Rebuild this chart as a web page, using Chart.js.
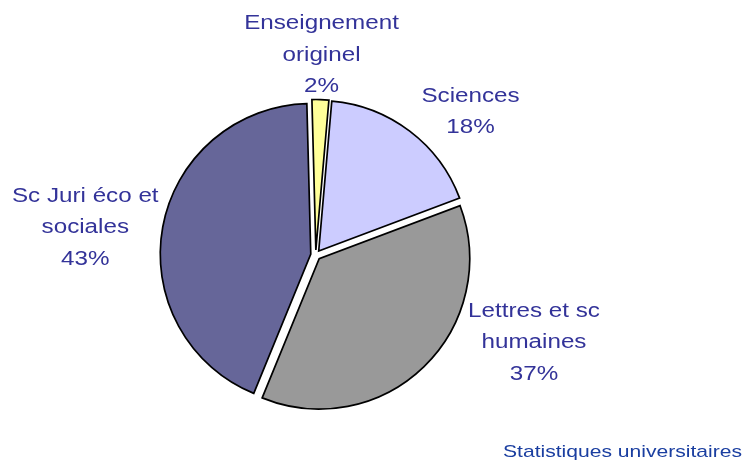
<!DOCTYPE html>
<html>
<head>
<meta charset="utf-8">
<script src="https://cdn.jsdelivr.net/npm/chart.js@4/dist/chart.umd.min.js"></script>
<style>
  html, body { margin: 0; padding: 0; background: #ffffff; }
  #wrap { width: 747px; height: 461px; position: relative; }
</style>
</head>
<body>
<div id="wrap"><canvas id="c" width="747" height="461"></canvas></div>
<script>
// ---- data (shares; labels show them rounded) ----
const categories = [["Enseignement", "originel"], ["Sciences"], ["Lettres et sc", "humaines"], ["Sc Juri éco et", "sociales"]];
const values = [1.8, 17.9, 36.9, 43.4];
const colors = ["#FFFF99", "#CCCCFF", "#999999", "#666699"];
const footerText = "Statistiques universitaires";

// ---- layout (label anchors relative to pie centre, in units of radius) ----
const labelAnchors = [[0.0385, -1.502], [1.029, -1.019], [1.4505, 0.41], [-1.531, -0.354]];
const PIE_RADIUS = 150.5;
const EXPLODE = 5;

// explode every slice outward along its mid-angle (Excel style, no radius change)
const explodePlugin = {
  id: 'explode',
  afterDatasetUpdate(chart, args) {
    const meta = chart.getDatasetMeta(args.index);
    meta.data.forEach(el => { el.$cx = el.x; el.$cy = el.y; });
  },
  beforeDatasetDraw(chart, args) {
    const meta = chart.getDatasetMeta(args.index);
    meta.data.forEach(el => {
      const mid = (el.startAngle + el.endAngle) / 2;
      el.x = el.$cx + Math.cos(mid) * EXPLODE;
      el.y = el.$cy + Math.sin(mid) * EXPLODE;
    });
  }
};

const labelPlugin = {
  id: 'extLabels',
  afterDraw(chart) {
    const ctx = chart.ctx;
    const meta = chart.getDatasetMeta(0);
    const arc0 = meta.data[0];
    const cx = arc0.$cx, cy = arc0.$cy, r = arc0.outerRadius;
    const total = values.reduce((a, b) => a + b, 0);
    ctx.save();
    ctx.fillStyle = '#333399';
    ctx.font = '20px "Liberation Sans", Arial, sans-serif';
    ctx.textAlign = 'center';
    ctx.textBaseline = 'alphabetic';
    const sx = 1.21, lh = 31.6;
    values.forEach((v, i) => {
      const ax = cx + labelAnchors[i][0] * r;
      const ay = cy + labelAnchors[i][1] * r;
      const lines = categories[i].concat([Math.round(v / total * 100) + '%']);
      lines.forEach((t, j) => {
        ctx.save();
        ctx.translate(ax, ay + j * lh);
        ctx.scale(sx, 1);
        ctx.fillText(t, 0, 0);
        ctx.restore();
      });
    });
    // footer
    ctx.fillStyle = '#1a3ea0';
    ctx.font = '17px "Liberation Sans", Arial, sans-serif';
    ctx.textAlign = 'right';
    ctx.save();
    ctx.translate(742, 457);
    ctx.scale(1.24, 1);
    ctx.fillText(footerText, 0, 0);
    ctx.restore();
    ctx.restore();
  }
};

new Chart(document.getElementById('c'), {
  type: 'pie',
  data: {
    labels: categories.map(c => c.join(' ')),
    datasets: [{
      data: values,
      backgroundColor: colors,
      borderColor: '#000000',
      borderWidth: 1.7,
      borderJoinStyle: 'miter',
      radius: PIE_RADIUS
    }]
  },
  options: {
    responsive: false,
    animation: false,
    devicePixelRatio: 1,
    rotation: -1.5,
    layout: { padding: { left: 0, right: 115.6, top: 49, bottom: 0 } },
    plugins: { legend: { display: false }, tooltip: { enabled: false }, title: { display: false } }
  },
  plugins: [explodePlugin, labelPlugin]
});
</script>
</body>
</html>
